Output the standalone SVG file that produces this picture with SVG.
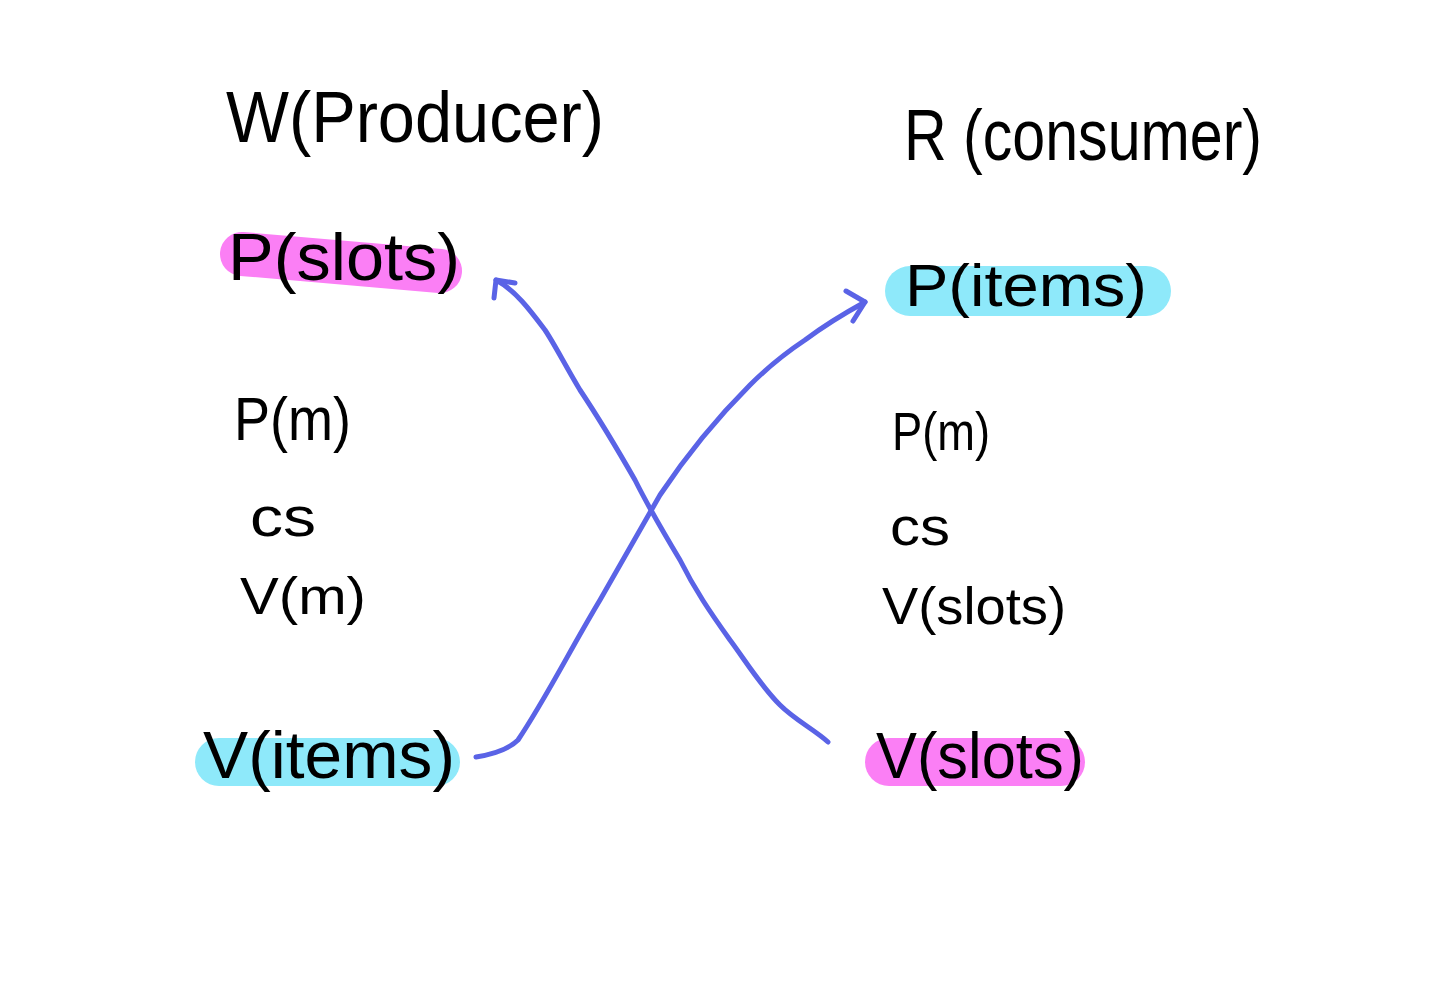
<svg xmlns="http://www.w3.org/2000/svg" width="1440" height="985" viewBox="0 0 1440 985">
<style>
.t{font-family:"Liberation Sans",Arial,sans-serif;fill:#000;}
.pink{stroke:#FB7FF5;stroke-linecap:round;fill:none;}
.cyan{stroke:#8EE9FA;stroke-linecap:round;fill:none;}
.con{stroke:#5A63E6;stroke-width:5;fill:none;stroke-linecap:round;stroke-linejoin:round;}
</style>
<rect width="1440" height="985" fill="#fff"/>
<g id="title-w"><text class="t" x="226" y="142" font-size="72" textLength="378" lengthAdjust="spacingAndGlyphs">W(Producer)</text></g>
<g id="title-r"><text class="t" x="904" y="160" font-size="72" textLength="358" lengthAdjust="spacingAndGlyphs">R (consumer)</text></g>
<g id="w-p-slots">
<line class="pink" x1="242" y1="254" x2="440" y2="271" stroke-width="44"/>
<text class="t" x="228" y="280" font-size="66" textLength="232" lengthAdjust="spacingAndGlyphs">P(slots)</text>
</g>
<g id="w-p-m"><text class="t" x="234" y="440" font-size="62" textLength="117" lengthAdjust="spacingAndGlyphs">P(m)</text></g>
<g id="w-cs"><text class="t" x="250" y="536" font-size="56" textLength="66" lengthAdjust="spacingAndGlyphs">cs</text></g>
<g id="w-v-m"><text class="t" x="240" y="614" font-size="52" textLength="126" lengthAdjust="spacingAndGlyphs">V(m)</text></g>
<g id="w-v-items">
<line class="cyan" x1="219" y1="762" x2="436" y2="762" stroke-width="48"/>
<text class="t" x="203" y="778" font-size="66" textLength="252" lengthAdjust="spacingAndGlyphs">V(items)</text>
</g>
<g id="r-p-items">
<line class="cyan" x1="910" y1="291" x2="1146" y2="291" stroke-width="50"/>
<text class="t" x="905" y="306" font-size="60" textLength="242" lengthAdjust="spacingAndGlyphs">P(items)</text>
</g>
<g id="r-p-m"><text class="t" x="892" y="450" font-size="54" textLength="98" lengthAdjust="spacingAndGlyphs">P(m)</text></g>
<g id="r-cs"><text class="t" x="890" y="545" font-size="54" textLength="60" lengthAdjust="spacingAndGlyphs">cs</text></g>
<g id="r-v-slots"><text class="t" x="882" y="624" font-size="52" textLength="184" lengthAdjust="spacingAndGlyphs">V(slots)</text></g>
<g id="r-v-slots-hl">
<line class="pink" x1="889" y1="762" x2="1061" y2="762" stroke-width="48"/>
<text class="t" x="876" y="778" font-size="64" textLength="208" lengthAdjust="spacingAndGlyphs">V(slots)</text>
</g>
<g id="connectors">
<path class="con" d="M476,757 C495,754 510,748 518,740 C545,700 570,650 600,600 C620,565 640,530 660,495 C690,450 720,415 750,385 C770,365 790,350 805,340 C825,325 845,313 865,302"/>
<path class="con" d="M846,291 L865,302 L853,321"/>
<path class="con" d="M828,742 C815,730 795,720 780,705 C760,685 745,660 730,640 C710,612 695,590 680,560 C665,535 650,510 635,480 C615,445 600,420 580,390 C565,365 555,345 545,330 C530,310 515,290 496,280"/>
<path class="con" d="M494,298 L496,280 L515,283"/>
</g>
</svg>
